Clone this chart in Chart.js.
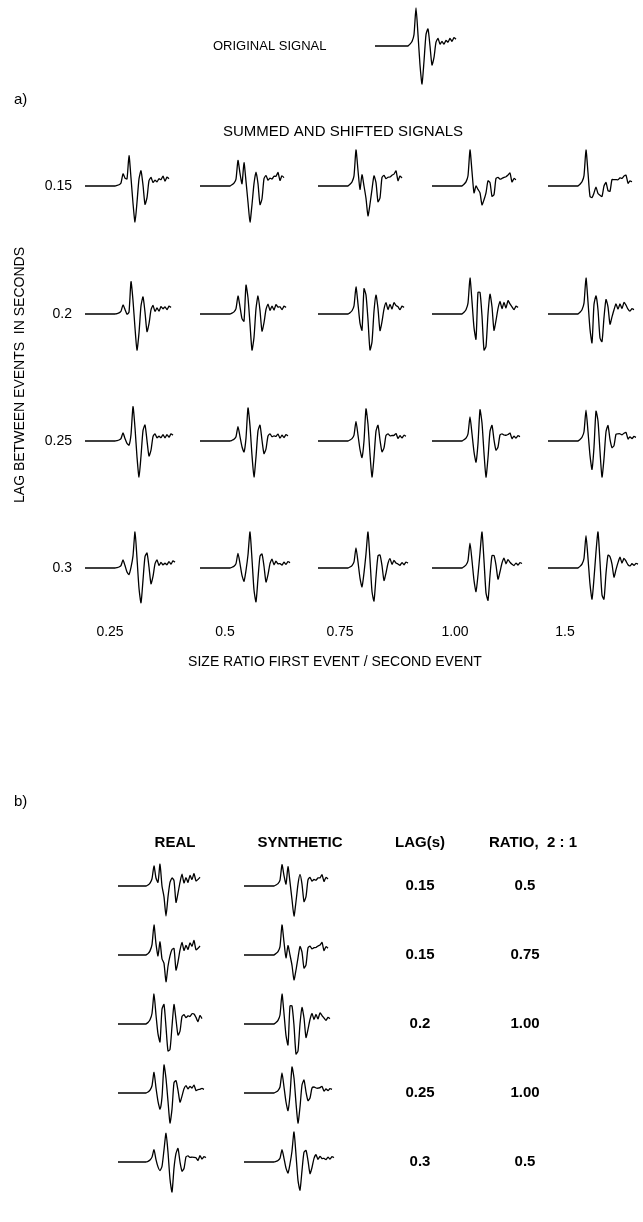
<!DOCTYPE html>
<html>
<head>
<meta charset="utf-8">
<script src="https://cdn.jsdelivr.net/npm/chart.js@4"></script>
<style>body{margin:0;background:#fff}</style>
</head>
<body>
<canvas id="c" width="643" height="1222"></canvas>
<script>
// original signal, amplitude samples (up positive)
const original = [0, 0.05, 0.12, 0.3, 1.0, 0.3, -0.5, -1.0, -0.4, 0.3, 0.45, 0.0, -0.5, -0.3, 0.1, 0.2, 0.05, 0.12, 0.05, 0.15, 0.1, 0.2, 0.12, 0.22, 0.18];
// extra wiggle seen on the real records in b)
const realNoise = [0, 0, 0.02, 0.05, 0, -0.05, 0.05, 0.1, -0.1, 0.05, -0.05, 0.1, 0.05, -0.08, 0.1, -0.05, 0.08, -0.06, 0.1, -0.04, 0.06, -0.05, 0.08, -0.03, 0.05, 0.02, -0.04, 0.06];

const lags = [0.15, 0.2, 0.25, 0.3];
const ratios = [0.25, 0.5, 0.75, 1.0, 1.5];
const ratioLabels = ['0.25', '0.5', '0.75', '1.00', '1.5'];

const bLags = [0.15, 0.15, 0.2, 0.25, 0.3];
const bRatios = [0.5, 0.75, 1.0, 1.0, 0.5];
const bLagLabels = ['0.15', '0.15', '0.2', '0.25', '0.3'];
const bRatioLabels = ['0.5', '0.75', '1.00', '1.00', '0.5'];

const STEP = 2;        // px per sample
const PX_PER_SEC = 40; // lag scale

function summed(lag, ratio, noise) {
  const shift = Math.round(lag * PX_PER_SEC / STEP);
  const n = original.length + shift;
  const out = [];
  for (let i = 0; i < n; i++) {
    let v = ratio * (original[i] || 0);
    if (i >= shift) v += original[i - shift] || 0;
    if (noise) v += noise[i] || 0;
    out.push(v);
  }
  const m = Math.max(...out.map(Math.abs));
  return out.map(v => v / m);
}

function trace(x0, y0, flat, amp, s) {
  const pts = [{x: x0, y: y0}, {x: x0 + flat, y: y0}];
  s.forEach((v, i) => pts.push({x: x0 + flat + i * STEP, y: y0 - amp * v}));
  return pts;
}

const datasets = [];
const add = pts => datasets.push({data: pts, borderColor: '#000', borderWidth: 1.3, pointRadius: 0, tension: 0.2, fill: false});

add(trace(375, 46, 33, 38, original));

const colX = [85, 200, 318, 432, 548];
const rowY = [186, 314, 441, 568];
lags.forEach((l, r) => ratios.forEach((q, c) => add(trace(colX[c], rowY[r], 30, 36, summed(l, q)))));

const bRowY = [886, 955, 1024, 1093, 1162];
bLags.forEach((l, r) => {
  add(trace(118, bRowY[r], 28, 30, summed(l, bRatios[r], realNoise)));
  add(trace(244, bRowY[r], 30, 30, summed(l, bRatios[r])));
});

const labels = {
  id: 'labels',
  afterDraw(chart) {
    const g = chart.ctx;
    g.save();
    g.fillStyle = '#000';
    g.textBaseline = 'middle';
    const t = (s, x, y, font, align) => { g.font = font; g.textAlign = align || 'left'; g.fillText(s, x, y); };
    const f = '14px "Liberation Sans", Arial, sans-serif';
    t('ORIGINAL SIGNAL', 213, 46, '13px "Liberation Sans", Arial, sans-serif');
    t('a)', 14, 100, '15px "Liberation Sans", Arial, sans-serif');
    t('SUMMED AND SHIFTED SIGNALS', 343, 132, '15px "Liberation Sans", Arial, sans-serif', 'center');
    lags.forEach((l, r) => t(String(l), 72, rowY[r], f, 'right'));
    const cx = [110, 225, 340, 455, 565];
    ratioLabels.forEach((s, i) => t(s, cx[i], 632, f, 'center'));
    t('SIZE RATIO FIRST EVENT / SECOND EVENT', 335, 662, f, 'center');
    g.save();
    g.translate(20, 375);
    g.rotate(-Math.PI / 2);
    t('LAG BETWEEN EVENTS  IN SECONDS', 0, 0, f, 'center');
    g.restore();
    t('b)', 14, 802, '15px "Liberation Sans", Arial, sans-serif');
    const b = 'bold 15px "Liberation Sans", Arial, sans-serif';
    t('REAL', 175, 843, b, 'center');
    t('SYNTHETIC', 300, 843, b, 'center');
    t('LAG(s)', 420, 843, b, 'center');
    t('RATIO,  2 : 1', 533, 843, b, 'center');
    bRowY.forEach((y, i) => {
      t(bLagLabels[i], 420, y, b, 'center');
      t(bRatioLabels[i], 525, y, b, 'center');
    });
    g.restore();
  }
};

new Chart(document.getElementById('c'), {
  type: 'line',
  data: {datasets},
  options: {
    responsive: false,
    animation: false,
    layout: {padding: 0},
    plugins: {legend: {display: false}, tooltip: {enabled: false}},
    scales: {
      x: {type: 'linear', min: 0, max: 643, display: false},
      y: {type: 'linear', min: 0, max: 1222, reverse: true, display: false}
    }
  },
  plugins: [labels]
});
</script>
</body>
</html>
